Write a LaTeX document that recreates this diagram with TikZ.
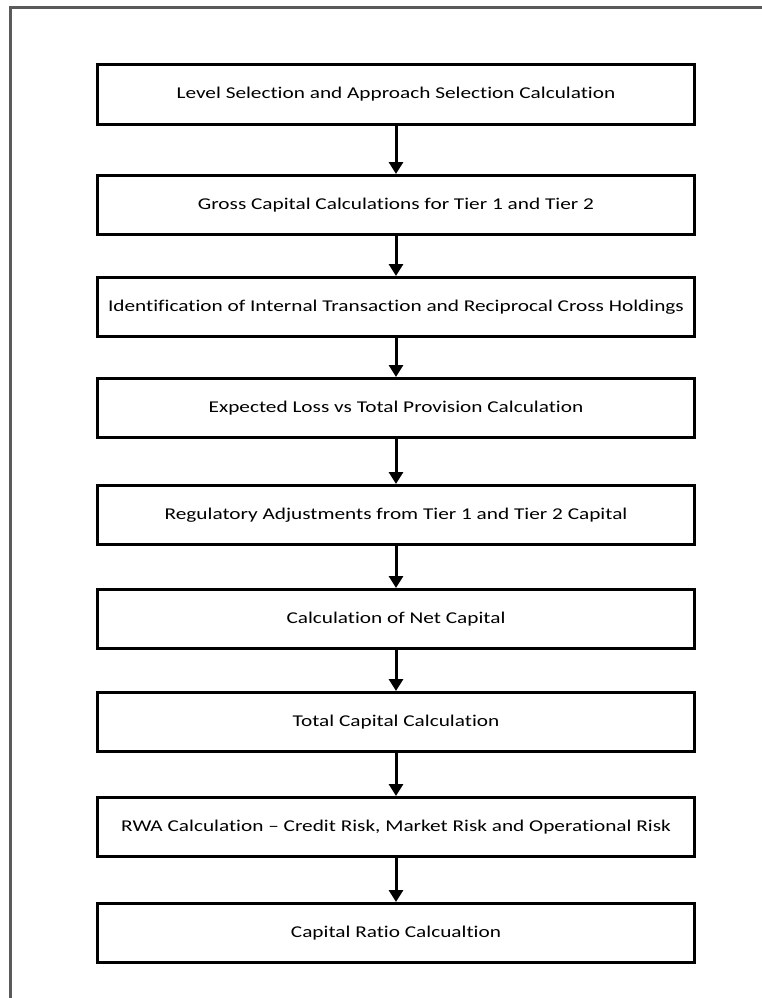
\documentclass[tikz,border=0pt]{standalone}
\usepackage{fontspec}
\setmainfont[Ligatures=NoCommon,FakeStretch=1.29]{Carlito}
\usepackage{tikz}
\usetikzlibrary{arrows.meta,positioning}
\definecolor{framegray}{RGB}{90,90,90}

\begin{document}
\begin{tikzpicture}[x=1pt,y=-1pt,>={Triangle[length=12pt,width=14pt]}]
  \tikzstyle{calc}=[rectangle,draw=black,line width=3pt,fill=white,minimum width=597pt,minimum height=59pt,inner sep=0pt,align=center,font=\fontsize{16.5}{20}\selectfont]
  \tikzstyle{flow}=[->,line width=3pt]
  \useasboundingbox (0,0) rectangle (762,998);
  % outer frame, only its top and left edges show
  \draw[framegray,line width=3pt] (10,998) -- (10,8) -- (762,8);

  \node[calc] (levelsel) at (396,94.5) {Level Selection and Approach Selection Calculation};
  \node[calc] (gross) at (396,205) {Gross Capital Calculations for Tier 1 and Tier 2};
  \node[calc] (ident) at (396,307) {Identification of Internal Transaction and Reciprocal Cross Holdings};
  \node[calc] (exploss) at (396,408) {Expected Loss vs Total Provision Calculation};
  \node[calc] (regadj) at (396,515) {Regulatory Adjustments from Tier 1 and Tier 2 Capital};
  \node[calc] (netcap) at (396,619) {Calculation of Net Capital};
  \node[calc] (totcap) at (396,722) {Total Capital Calculation};
  \node[calc] (rwa) at (396,827) {RWA Calculation -- Credit Risk, Market Risk and Operational Risk};
  \node[calc] (ratio) at (396,933) {Capital Ratio Calcualtion};

  \draw[flow] (levelsel) -- (gross);
  \draw[flow] (gross) -- (ident);
  \draw[flow] (ident) -- (exploss);
  \draw[flow] (exploss) -- (regadj);
  \draw[flow] (regadj) -- (netcap);
  \draw[flow] (netcap) -- (totcap);
  \draw[flow] (totcap) -- (rwa);
  \draw[flow] (rwa) -- (ratio);
\end{tikzpicture}
\end{document}
